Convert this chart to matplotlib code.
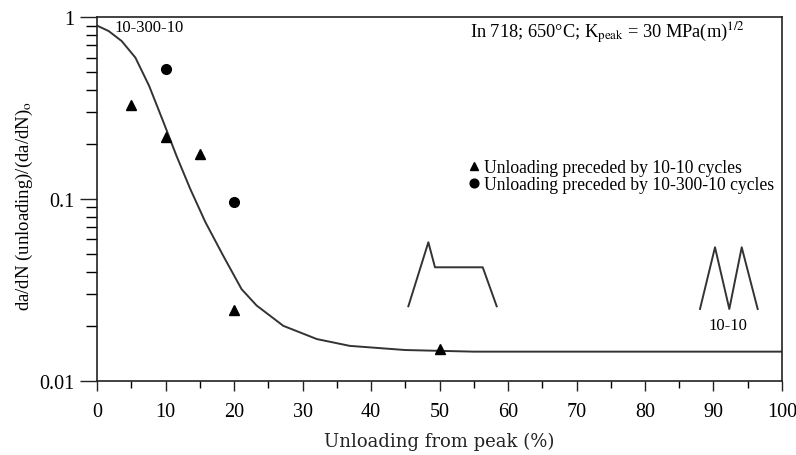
import matplotlib
matplotlib.use("Agg")
import matplotlib.pyplot as plt
from matplotlib.ticker import FixedLocator, NullFormatter, LogLocator

plt.rcParams['font.family'] = ['Liberation Serif', 'DejaVu Serif']
plt.rcParams['mathtext.fontset'] = 'stix'

# Fitted curve
curve_x = [0, 1.7, 3.6, 5.6, 7.6, 9.7, 11.6, 13.6, 15.8, 18.4, 21.1, 23.3, 27.2, 32.1, 36.9, 45, 55, 100]
curve_y = [0.90, 0.84, 0.74, 0.60, 0.42, 0.265, 0.173, 0.114, 0.075, 0.049, 0.032, 0.026, 0.0201, 0.0170, 0.0156, 0.0148, 0.0145, 0.0145]

# Unloading preceded by 10-10 cycles (triangles)
tri_x = [5, 10, 15, 20, 50]
tri_y = [0.33, 0.22, 0.177, 0.0246, 0.0150]

# Unloading preceded by 10-300-10 cycles (circles)
cir_x = [10, 20]
cir_y = [0.52, 0.097]

x_ticks = [0, 10, 20, 30, 40, 50, 60, 70, 80, 90, 100]
y_ticks = [0.01, 0.1, 1]
y_ticklabels = ['0.01', '0.1', '1']

fig = plt.figure(figsize=(7.96, 4.56), dpi=100)
ax = fig.add_axes([0.1219, 0.1623, 0.8605, 0.7976])

ax.plot(curve_x, curve_y, color='#333333', lw=1.4, zorder=2)
ax.plot(tri_x, tri_y, linestyle='none', marker='^', color='black', ms=7,
        label='Unloading preceded by 10-10 cycles', zorder=3)
ax.plot(cir_x, cir_y, linestyle='none', marker='o', color='black', ms=7,
        label='Unloading preceded by 10-300-10 cycles', zorder=3)

ax.set_yscale('log')
ax.set_xlim(0, 100)
ax.set_ylim(0.01, 1)
ax.set_xticks(x_ticks)
ax.xaxis.set_minor_locator(FixedLocator([5, 15, 25, 35, 45, 55, 65, 75, 85, 95]))
ax.set_yticks(y_ticks)
ax.set_yticklabels(y_ticklabels)
ax.yaxis.set_minor_locator(LogLocator(base=10, subs=range(2, 10)))
ax.yaxis.set_minor_formatter(NullFormatter())

ax.tick_params(axis='both', which='major', direction='out', labelsize=14.5, width=1.0, color='#222222')
ax.tick_params(axis='y', which='major', length=12, pad=4)
ax.tick_params(axis='y', which='minor', length=8, width=1.0)
ax.tick_params(axis='x', which='major', length=7, pad=8)
ax.tick_params(axis='x', which='minor', length=5, width=1.0)
for s in ax.spines.values():
    s.set_linewidth(1.2)
    s.set_color('#222222')

xl = ax.set_xlabel('Unloading from peak (%)', fontsize=13, family=['DejaVu Serif'], color='#222222')
xl.set_va('center')
ax.xaxis.set_label_coords(0.499, -0.165)
ax.set_ylabel(r'da/dN (unloading)/(da/dN)$_{\mathrm{o}}$', fontsize=13.5)
ax.yaxis.set_label_coords(-0.091, 0.485)

ax.text(0.026, 0.973, '10-300-10', transform=ax.transAxes, fontsize=12, ha='left', va='center')
ax.text(0.5445, 0.96, r'In 718; 650°C; K$_{\mathrm{peak}}$ = 30 MPa(m)$^{1/2}$',
        transform=ax.transAxes, fontsize=13.2, ha='left', va='center')

ax.legend(loc='upper left', bbox_to_anchor=(0.527, 0.635), frameon=False, fontsize=12.7,
          borderpad=0, handlelength=0.8, handletextpad=0.15, labelspacing=0.0, markerscale=0.9)

# Schematic loading waveforms (axes fraction)
wave1_x = [0.4545, 0.4837, 0.4934, 0.5631, 0.5835]
wave1_y = [0.2054, 0.3814, 0.3126, 0.3126, 0.2054]
wave2_x = [0.8803, 0.9022, 0.9231, 0.9412, 0.9645]
wave2_y = [0.198, 0.3676, 0.198, 0.3676, 0.198]
ax.plot(wave1_x, wave1_y, transform=ax.transAxes, color='#333333', lw=1.4)
ax.plot(wave2_x, wave2_y, transform=ax.transAxes, color='#333333', lw=1.4)
ax.text(0.9216, 0.154, '10-10', transform=ax.transAxes, fontsize=12, ha='center', va='center')

fig.savefig('out.png', dpi=100)
